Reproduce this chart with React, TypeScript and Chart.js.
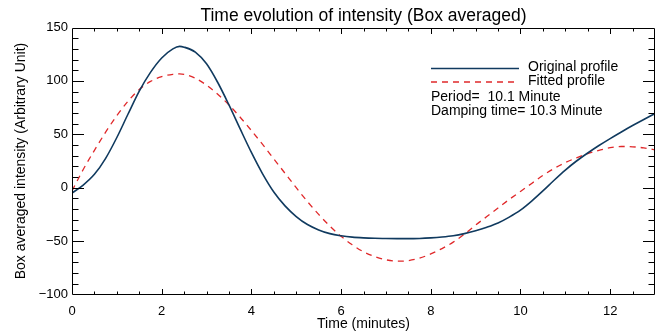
import React, { useEffect, useRef } from 'react';
import { Chart, registerables } from 'chart.js';

Chart.register(...registerables);

// ---- data ----
const timeMinutes = [
  0, 0.25, 0.5, 0.75, 1.0, 1.25, 1.5, 1.75, 2.0, 2.25, 2.4, 2.5, 2.75, 3.0, 3.25, 3.5, 3.75,
  4.0, 4.25, 4.5, 4.75, 5.0, 5.25, 5.5, 5.75, 6.0, 6.25, 6.5, 6.75, 7.0, 7.25, 7.5, 7.75,
  8.0, 8.25, 8.5, 8.75, 9.0, 9.25, 9.5, 9.75, 10.0, 10.25, 10.5, 10.75, 11.0, 11.25, 11.5, 11.75,
  12.0, 12.25, 12.5, 12.75, 13.0,
];
const originalValues = [
  -5, 2.5, 12.5, 27.5, 47, 69, 90.5, 108, 121.5, 130, 132.3, 131.6, 127, 116, 98.5, 77.5, 55,
  33, 13, -4, -17, -27, -34.5, -39.5, -43, -45, -46.3, -47, -47.4, -47.6, -47.7, -47.7, -47.5,
  -47, -46.2, -45, -43, -40.3, -37, -33, -27.5, -21, -12.5, -3, 7, 16.5, 25, 32.5, 39.5,
  46, 52.2, 58.2, 63.9, 69.4,
];
const fittedValues = [
  -3, 17, 35, 52, 67.5, 81, 92, 99.5, 104, 106.2, 106.5, 106.2, 102.5, 96, 87.5, 77.5, 66,
  53.5, 40.5, 27, 13.5, 0, -13, -25, -36, -45.5, -53.5, -60, -64.5, -67.5, -68.8, -68.3, -66,
  -62, -57, -51, -43.5, -35, -27, -19, -11, -3.5, 4, 11.5, 18, 23.5, 28, 32, 35,
  37.5, 38.6, 38.3, 37.3, 35.5,
];

const xTickValues = [0, 2, 4, 6, 8, 10, 12];
const yTickValues = [-100, -50, 0, 50, 100, 150];
const xMinorStep = 0.5;
const yMinorStep = 10;
const X_MIN = 0;
const X_MAX = 13;
const Y_MIN = -100;
const Y_MAX = 150;

const titleText = 'Time evolution of intensity (Box averaged)';
const xTitleText = 'Time (minutes)';
const yTitleText = 'Box averaged intensity (Arbitrary Unit)';
const seriesLabels = ['Original profile', 'Fitted profile'];
const noteLines = ['Period=  10.1 Minute', 'Damping time= 10.3 Minute'];

const BLUE = '#103a5f';
const RED = '#e0282a';
const FONT = "'Liberation Sans', Arial, sans-serif";
const DASH = [6, 5];

const fmt = (v: number) => (v < 0 ? '\u2212' + String(-v) : String(v));

const idlFrame = {
  id: 'idlFrame',
  afterDatasetsDraw(chart: any) {
    const { ctx, chartArea: a, scales } = chart;
    const xs = scales.x;
    const ys = scales.y;
    ctx.save();
    ctx.strokeStyle = '#000';
    ctx.lineWidth = 1;
    const L = Math.round(a.left) + 0.5;
    const R = Math.round(a.right) - 0.5;
    const T = Math.round(a.top) + 0.5;
    const B = Math.round(a.bottom) - 0.5;
    ctx.beginPath();
    ctx.rect(L, T, R - L, B - T);
    ctx.stroke();

    ctx.beginPath();
    const nx = Math.round((X_MAX - X_MIN) / xMinorStep);
    for (let i = 1; i < nx; i++) {
      const v = X_MIN + i * xMinorStep;
      const major = xTickValues.includes(v);
      const len = major ? 5.5 : 3;
      const px = Math.round(xs.getPixelForValue(v)) + 0.5;
      ctx.moveTo(px, B);
      ctx.lineTo(px, B - len);
      ctx.moveTo(px, T);
      ctx.lineTo(px, T + len);
    }
    const ny = Math.round((Y_MAX - Y_MIN) / yMinorStep);
    for (let i = 1; i < ny; i++) {
      const v = Y_MIN + i * yMinorStep;
      const major = yTickValues.includes(v);
      const len = major ? 11.5 : 6;
      const py = Math.round(ys.getPixelForValue(v)) + 0.5;
      ctx.moveTo(L, py);
      ctx.lineTo(L + len, py);
      ctx.moveTo(R, py);
      ctx.lineTo(R - len, py);
    }
    ctx.stroke();

    // title
    ctx.fillStyle = '#000';
    ctx.font = `17.5px ${FONT}`;
    ctx.textAlign = 'center';
    ctx.textBaseline = 'middle';
    ctx.fillText(titleText, (a.left + a.right) / 2, 16);

    // legend
    const lx0 = a.left + 359;
    const lx1 = a.left + 447;
    const tx = a.left + 456;
    ctx.font = `14px ${FONT}`;
    ctx.textAlign = 'left';
    ctx.lineWidth = 1.4;
    ctx.strokeStyle = BLUE;
    ctx.beginPath();
    ctx.moveTo(lx0, 68.5);
    ctx.lineTo(lx1, 68.5);
    ctx.stroke();
    ctx.strokeStyle = RED;
    ctx.setLineDash(DASH);
    ctx.beginPath();
    ctx.moveTo(lx0, 82);
    ctx.lineTo(lx1, 82);
    ctx.stroke();
    ctx.setLineDash([]);
    ctx.fillText(seriesLabels[0], tx, 67);
    ctx.fillText(seriesLabels[1], tx, 81);
    ctx.fillText(noteLines[0], lx0, 97);
    ctx.fillText(noteLines[1], lx0, 111);
    ctx.restore();
  },
};

export default function App() {
  const ref = useRef<HTMLCanvasElement | null>(null);
  useEffect(() => {
    if (!ref.current) return;
    const chart = new Chart(ref.current, {
      type: 'line',
      data: {
        datasets: [
          {
            label: seriesLabels[0],
            data: timeMinutes.map((t, i) => ({ x: t, y: originalValues[i] })),
            borderColor: BLUE,
            borderWidth: 1.6,
            pointRadius: 0,
            cubicInterpolationMode: 'monotone',
            fill: false,
          },
          {
            label: seriesLabels[1],
            data: timeMinutes.map((t, i) => ({ x: t, y: fittedValues[i] })),
            borderColor: RED,
            borderWidth: 1.3,
            borderDash: DASH,
            pointRadius: 0,
            cubicInterpolationMode: 'monotone',
            fill: false,
          },
        ],
      },
      options: {
        animation: false,
        responsive: true,
        maintainAspectRatio: false,
        layout: { padding: { left: 0, right: 8, top: 27.5, bottom: 0 } },
        plugins: {
          legend: { display: false },
          title: { display: false },
          tooltip: { enabled: false },
        },
        scales: {
          x: {
            type: 'linear',
            min: X_MIN,
            max: X_MAX,
            grid: { display: false, drawTicks: false },
            border: { display: false },
            afterBuildTicks: (s: any) => {
              s.ticks = xTickValues.map((v) => ({ value: v }));
            },
            afterFit: (s: any) => {
              s.height = 36.5;
            },
            ticks: {
              color: '#000',
              padding: 9,
              maxRotation: 0,
              font: { family: FONT, size: 13 },
              callback: (v: any) => fmt(Number(v)),
            },
            title: {
              display: true,
              text: xTitleText,
              color: '#000',
              font: { family: FONT, size: 14 },
              padding: { top: 0, bottom: -2 },
            },
          },
          y: {
            type: 'linear',
            min: Y_MIN,
            max: Y_MAX,
            grid: { display: false, drawTicks: false },
            border: { display: false },
            afterBuildTicks: (s: any) => {
              s.ticks = yTickValues.map((v) => ({ value: v }));
            },
            afterFit: (s: any) => {
              s.width = 72;
            },
            ticks: {
              color: '#000',
              padding: 4,
              font: { family: FONT, size: 13 },
              callback: (v: any) => fmt(Number(v)),
            },
            title: {
              display: true,
              text: yTitleText,
              color: '#000',
              font: { family: FONT, size: 14 },
              padding: { top: 13, bottom: 0 },
            },
          },
        },
      },
      plugins: [idlFrame],
    });
    return () => chart.destroy();
  }, []);

  return (
    <div style={{ position: 'fixed', left: 0, top: 0, width: 663, height: 331, background: '#fff' }}>
      <canvas ref={ref} />
    </div>
  );
}
